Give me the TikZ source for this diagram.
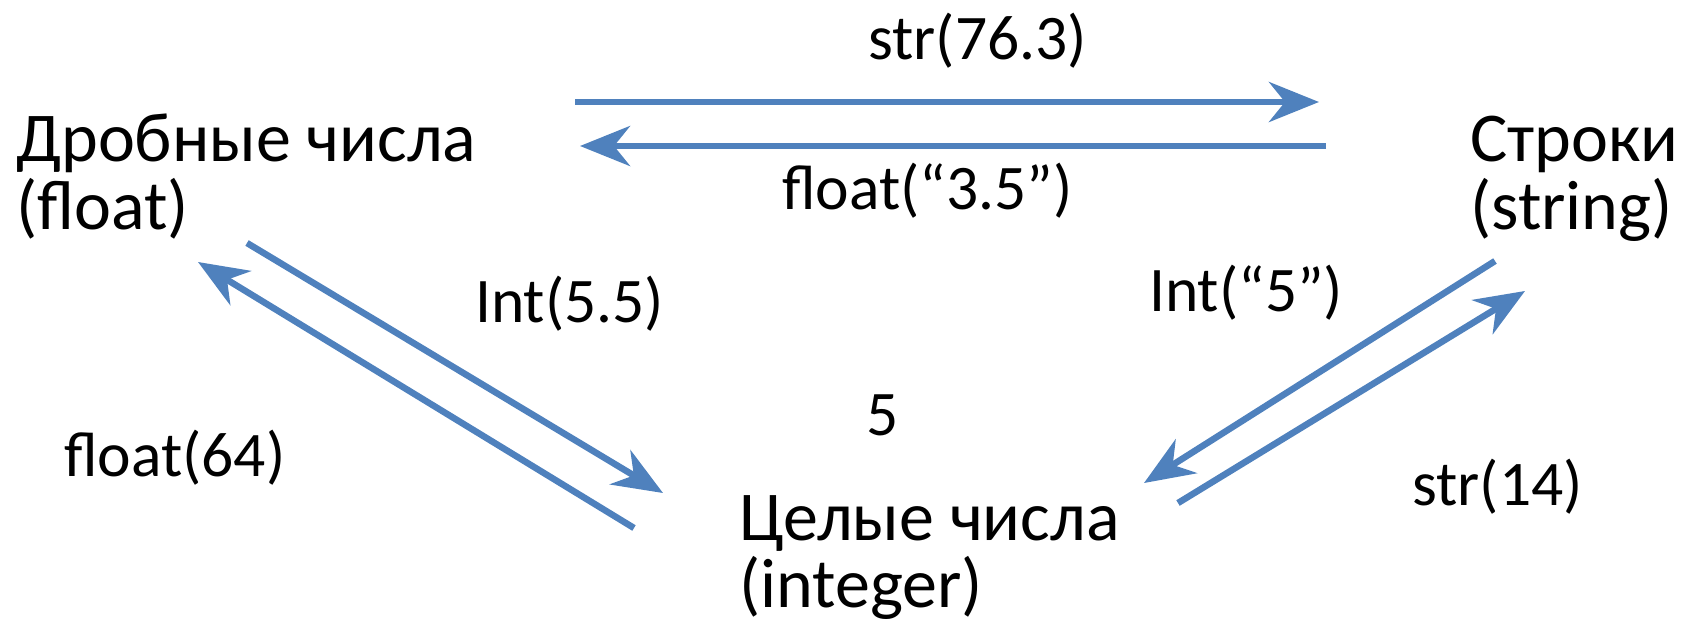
\documentclass[tikz,border=0pt]{standalone}
\usepackage{fontspec}
\setmainfont{Carlito}
\usetikzlibrary{arrows.meta}
\definecolor{arrowblue}{HTML}{4F81BD}
\begin{document}
\begin{tikzpicture}[x=1pt,y=-1pt,
  big/.style={anchor=base west,inner sep=0pt,font=\fontsize{70}{72}\selectfont},
  lab/.style={anchor=base west,inner sep=0pt,font=\fontsize{63.5}{66}\selectfont},
  conv/.style={draw=arrowblue,line width=6.5pt,-{Stealth[length=50pt,width=40pt,inset=16pt]}}]
\useasboundingbox (0,0) rectangle (1684,625);
% nodes
\node[big] (fl1) at (16,161) {Дробные числа};
\node[big] (fl2) at (16,229) {(float)};
\node[big] (st1) at (1470,161) {Строки};
\node[big] (st2) at (1470,229) {(string)};
\node[big] (in1) at (739,540) {Целые числа};
\node[big] (in2) at (739,607) {(integer)};
\node[lab] (five) at (866,435) {5};
% labels
\node[lab] (l1) at (868,59) {str(76.3)};
\node[lab] (l2) at (782,209) {float(“3.5”)};
\node[lab] (l3) at (475,322) {Int(5.5)};
\node[lab] (l4) at (64,476) {float(64)};
\node[lab] (l5) at (1149,311) {Int(“5”)};
\node[lab] (l6) at (1412,505) {str(14)};
% connector end points
\coordinate (a1s) at (575,102);
\coordinate (a1e) at (1319,102);
\coordinate (a2s) at (1326,146);
\coordinate (a2e) at (580,146);
\coordinate (a3s) at (247,243);
\coordinate (a3e) at (663,493);
\coordinate (a4s) at (634,528);
\coordinate (a4e) at (198,262);
\coordinate (a5s) at (1495,261);
\coordinate (a5e) at (1144,483);
\coordinate (a6s) at (1178,503);
\coordinate (a6e) at (1525,291);
% connectors
\draw[conv] (a1s) -- (a1e);
\draw[conv] (a2s) -- (a2e);
\draw[conv] (a3s) -- (a3e);
\draw[conv] (a4s) -- (a4e);
\draw[conv] (a5s) -- (a5e);
\draw[conv] (a6s) -- (a6e);
\end{tikzpicture}
\end{document}
